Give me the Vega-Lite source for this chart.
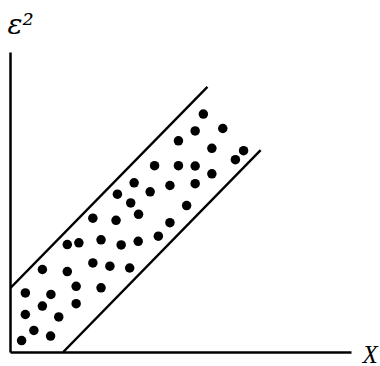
{
  "$schema": "https://vega.github.io/schema/vega-lite/v6.json",
  "width": 341,
  "height": 300,
  "autosize": {"type": "none"},
  "padding": {"left": 10, "top": 52, "right": 29, "bottom": 14},
  "background": "white",
  "config": {"view": {"stroke": null}},
  "datasets": {
    "points": [
      {"x": 5.67, "y": 7.93}, {"x": 5.43, "y": 7.37}, {"x": 6.24, "y": 7.45},
      {"x": 4.94, "y": 7.04}, {"x": 5.92, "y": 6.79}, {"x": 6.85, "y": 6.71},
      {"x": 6.61, "y": 6.41}, {"x": 4.24, "y": 6.21}, {"x": 4.94, "y": 6.21},
      {"x": 5.43, "y": 6.2}, {"x": 5.92, "y": 5.94}, {"x": 3.64, "y": 5.64},
      {"x": 4.69, "y": 5.55}, {"x": 5.43, "y": 5.61}, {"x": 3.15, "y": 5.26},
      {"x": 4.11, "y": 5.34}, {"x": 3.54, "y": 4.97}, {"x": 5.18, "y": 4.88},
      {"x": 3.77, "y": 4.59}, {"x": 2.43, "y": 4.46}, {"x": 3.11, "y": 4.39},
      {"x": 4.69, "y": 4.31}, {"x": 1.68, "y": 3.58}, {"x": 2.02, "y": 3.64},
      {"x": 2.67, "y": 3.74}, {"x": 3.26, "y": 3.57}, {"x": 3.76, "y": 3.69},
      {"x": 4.35, "y": 3.86}, {"x": 0.95, "y": 2.75}, {"x": 1.68, "y": 2.68},
      {"x": 2.43, "y": 2.97}, {"x": 2.93, "y": 2.86}, {"x": 3.51, "y": 2.8},
      {"x": 0.45, "y": 1.97}, {"x": 1.2, "y": 1.92}, {"x": 1.94, "y": 2.19},
      {"x": 2.67, "y": 2.14}, {"x": 0.95, "y": 1.53}, {"x": 1.94, "y": 1.61},
      {"x": 0.45, "y": 1.25}, {"x": 1.43, "y": 1.17}, {"x": 0.7, "y": 0.72},
      {"x": 1.19, "y": 0.53}, {"x": 0.34, "y": 0.38}
    ],
    "bounds": [
      {"band": "upper", "x": 0, "y": 2.12},
      {"band": "upper", "x": 5.79, "y": 8.84},
      {"band": "lower", "x": 1.56, "y": 0.0},
      {"band": "lower", "x": 7.35, "y": 6.73}
    ]
  },
  "layer": [
    {
      "data": {"name": "bounds"},
      "mark": {"type": "line", "color": "black", "strokeWidth": 2.4, "clip": true},
      "encoding": {
        "x": {
          "field": "x", "type": "quantitative",
          "scale": {"domain": [0, 10], "nice": false, "zero": false},
          "axis": {
            "title": "X",
            "labels": false, "ticks": false, "grid": false,
            "domainColor": "black", "domainWidth": 2.5,
            "titleFont": "Liberation Serif", "titleFontStyle": "italic",
            "titleFontWeight": "normal", "titleFontSize": 25,
            "titleColor": "black", "titleAlign": "left",
            "titleBaseline": "alphabetic", "titleAnchor": null,
            "titleX": 352, "titleY": 10
          }
        },
        "y": {
          "field": "y", "type": "quantitative",
          "scale": {"domain": [0, 10], "nice": false, "zero": false},
          "axis": {
            "title": "ε²",
            "labels": false, "ticks": false, "grid": false,
            "domainColor": "black", "domainWidth": 2.5,
            "titleFont": "DejaVu Serif", "titleFontStyle": "italic",
            "titleFontWeight": "normal", "titleFontSize": 28,
            "titleColor": "black", "titleAngle": 0, "titleAlign": "left",
            "titleBaseline": "alphabetic", "titleAnchor": null,
            "titleX": -3, "titleY": -19
          }
        },
        "detail": {"field": "band"}
      }
    },
    {
      "data": {"name": "points"},
      "mark": {"type": "circle", "color": "black", "opacity": 1, "size": 90},
      "encoding": {
        "x": {"field": "x", "type": "quantitative"},
        "y": {"field": "y", "type": "quantitative"}
      }
    }
  ]
}
